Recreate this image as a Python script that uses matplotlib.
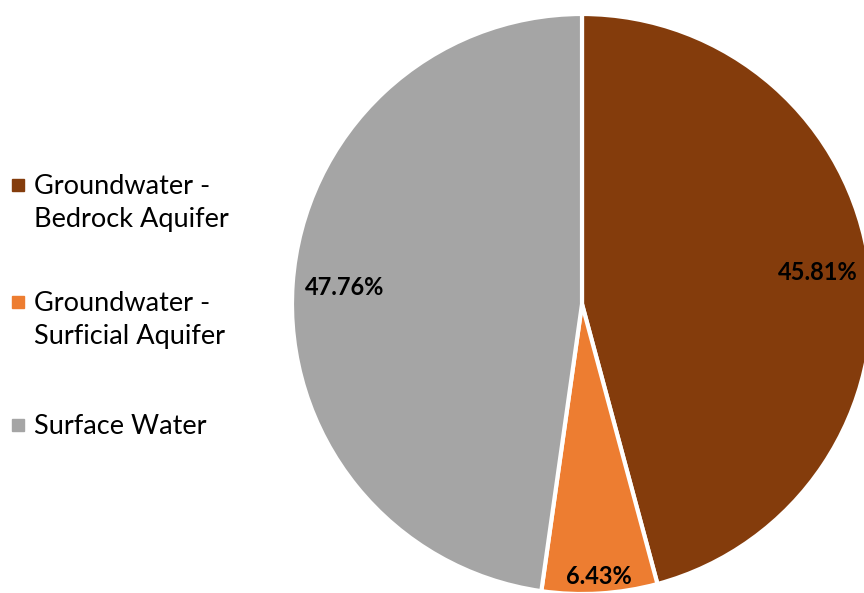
import numpy as np
import matplotlib.pyplot as plt
from matplotlib.patches import Rectangle

labels = ['Groundwater -\nBedrock Aquifer', 'Groundwater -\nSurficial Aquifer', 'Surface Water']
shares = [45.81, 6.43, 47.76]
colors = ['#843C0C', '#ED7D31', '#A5A5A5']
label_dist = [0.82, 0.94, 0.82]

plt.rcParams['font.family'] = ['Lato', 'DejaVu Sans']

fig = plt.figure(figsize=(8.64, 5.93), dpi=100)
W, H = 864, 593
cx, cy, r = 582, 304, 290
ax = fig.add_axes([(cx - r) / W, (H - cy - r) / H, 2 * r / W, 2 * r / H])

wedges, _ = ax.pie(shares, colors=colors, startangle=90, counterclock=False,
                   radius=1, wedgeprops=dict(edgecolor='white', linewidth=3))
for w, v, d in zip(wedges, shares, label_dist):
    ang = np.deg2rad((w.theta1 + w.theta2) / 2)
    ax.text(d * np.cos(ang), d * np.sin(ang), f'{v:.2f}%', ha='center', va='center',
            fontsize=17, fontweight='bold', color='black')
ax.set_xlim(-1, 1)
ax.set_ylim(-1, 1)
ax.set_aspect('equal')
ax.axis('off')

# legend
ys = [185, 302, 425]
for lab, c, y in zip(labels, colors, ys):
    fig.patches.append(Rectangle((12 / W, (H - y - 6) / H), 12 / W, 12 / H,
                                 transform=fig.transFigure, color=c))
    fig.text(34 / W, (H - y + 11) / H, lab, ha='left', va='top', fontsize=19.5,
             linespacing=1.42, color='black')

fig.savefig('out.png', dpi=100)
